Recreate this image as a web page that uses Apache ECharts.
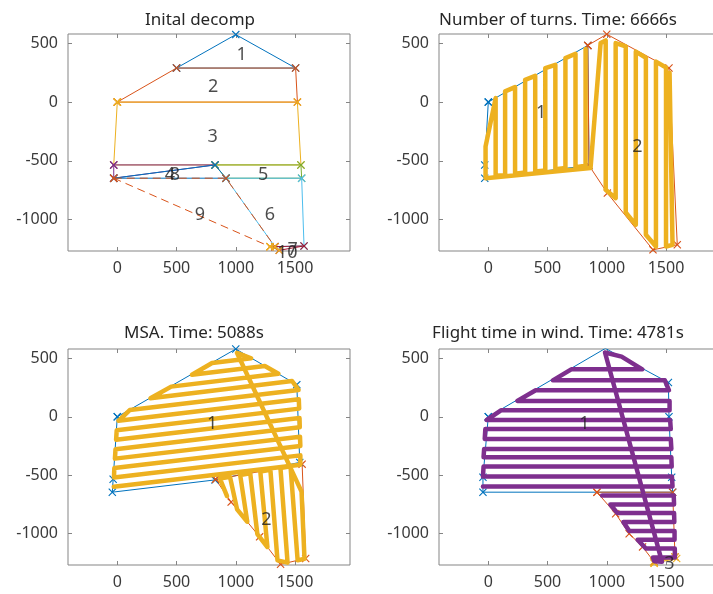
<!DOCTYPE html>
<html>
<head>
<meta charset="utf-8">
<script src="https://cdn.jsdelivr.net/npm/echarts@6/dist/echarts.min.js"></script>
<style>
html,body{margin:0;padding:0;background:#fff}
#chart{width:713px;height:594px}
</style>
</head>
<body>
<div id="chart"></div>
<script>
// ticks shared by the four panels
const xTicks = [0, 500, 1000, 1500];
const yTicks = [-1000, -500, 0, 500];
const xRange = [-416, 1964];
const yRange = [-1268, 580];

const titles = ['Inital decomp', 'Number of turns. Time: 6666s', 'MSA. Time: 5088s', 'Flight time in wind. Time: 4781s'];

// panel 1: initial decomposition, one polygon per cell (cell 9 dashed)
const cell1 = [[500, 290], [1000, 575], [1505, 290]];
const cell2 = [[0, 0], [500, 290], [1505, 290], [1520, 0]];
const cell3 = [[0, 0], [1520, 0], [1550, -535], [-30, -535]];
const cell4 = [[-30, -535], [825, -535], [-30, -648]];
const cell5 = [[825, -535], [1550, -535], [1556, -648], [917, -648]];
const cell6 = [[917, -648], [1556, -648], [1576, -1225], [1330, -1231]];
const cell7 = [[1330, -1231], [1576, -1225], [1367, -1262]];
const cell8 = [[-30, -648], [825, -535], [917, -648]];
const cell9 = [[-30, -648], [917, -648], [1330, -1231], [1289, -1231]];
const cell10 = [[1289, -1231], [1330, -1231], [1367, -1262]];
const cellLabels = [[1050, 403, '1'], [810, 128, '2'], [805, -293, '3'], [445, -620, '4'], [487, -620, '8'],
  [1232, -620, '5'], [1289, -960, '6'], [698, -960, '9'], [1480, -1262, '7'], [1435, -1287, '10']];

// panel 2: number of turns
const turnsPoly1 = [[0, 0], [840, 483], [850, -540], [-30, -648], [-30, -535]];
const turnsPoly2 = [[840, 483], [1000, 578], [1525, 290], [1595, -1215], [1390, -1258], [1005, -775], [850, -540]];
const turnsPath = [[821, 452], [821, -542], [736, -554], [736, 412], [651, 375], [651, -562], [566, -571], [566, 318],
  [481, 290], [481, -582], [396, -591], [396, 224], [311, 190], [311, -599], [226, -611], [226, 128], [142, 91],
  [142, -622], [62, -628], [62, 34], [-23, -378], [-23, -648], [863, -562], [948, 503], [991, 525], [991, -747],
  [1075, -818], [1075, 503], [1160, 474], [1160, -940], [1245, -1045], [1245, 430], [1330, 378], [1330, -1130],
  [1415, -1230], [1415, 345], [1500, 295], [1500, -1230], [1555, -1216], [1530, 250]];
const turnsLabels = [[447, -94, '1'], [1259, -378, '2']];

// panel 3: MSA
const msaPoly1 = [[0, 0], [1000, 580], [1515, 275], [1540, -390], [825, -540], [-42, -645], [-35, -535]];
const msaPoly2 = [[830, -535], [1560, -405], [1590, -1212], [1378, -1262], [1201, -1027], [961, -730]];
const msaPath = [[-30, -599], [1545, -410], [1545, -330], [-28, -519], [-25, -438], [1545, -250], [1542, -170],
  [-20, -358], [-15, -277], [1540, -90], [1538, -10], [-10, -196], [-5, -116], [1535, 70], [1532, 150], [10, -34],
  [105, 58], [1530, 230], [1475, 306], [280, 158], [455, 258], [1360, 368], [1245, 435], [630, 360], [800, 460],
  [1130, 501], [1010, 548], [1555, -640], [1580, -1215], [1522, -1228], [1462, -423], [1377, -438], [1437, -1248],
  [1352, -1228], [1292, -453], [1207, -468], [1267, -1115], [1182, -1003], [1122, -483], [1037, -498], [1097, -898],
  [1011, -792], [951, -513], [866, -529], [926, -678]];
const msaLabels = [[800, -62, '1'], [1258, -886, '2']];

// panel 4: flight time in wind
const windPoly1 = [[0, 0], [988, 585], [1520, 293], [1525, 0], [1548, -517], [1556, -645], [-45, -645], [-45, -517]];
const windPoly2 = [[917, -645], [1556, -645], [1576, -1200], [1400, -1241], [1302, -1113], [1189, -1000], [1075, -829]];
const windPoly3 = [[1400, -1252], [1590, -1213], [1576, -1200], [1395, -1240]];
const windPath = [[960, -673], [1565, -673], [1568, -750], [1030, -750], [1090, -824], [1568, -824], [1570, -900],
  [1140, -900], [1190, -977], [1572, -977], [1572, -1051], [1260, -1051], [1330, -1127], [1574, -1127], [1575, -1204],
  [1390, -1204], [1400, -1235], [1466, -1241], [985, 550], [1125, 515], [1300, 406], [700, 406], [545, 312],
  [1490, 312], [1525, 227], [400, 227], [245, 136], [1530, 136], [1530, 57], [110, 57], [-15, -28], [1535, -28],
  [1540, -105], [-25, -105], [-30, -190], [1540, -190], [1545, -275], [-35, -275], [-40, -346], [1545, -346],
  [1548, -426], [-40, -426], [-45, -511], [1550, -511], [1555, -596], [-45, -596]];
const windLabels = [[812, -62, '1'], [1528, -1255, '3']];

const C = {blue: '#0072BD', orange: '#D95319', yellow: '#EDB120', purple: '#7E2F8E',
  green: '#77AC30', cyan: '#4DBEEE', red: '#A2142F'};
const FONT = '"Noto Sans", sans-serif';
const AXIS = '#858585';
const CROSS = 'path://M1,0L5,4L9,0L10,1L6,5L10,9L9,10L5,6L1,10L0,9L4,5L0,1Z';

const grids = [
  {left: 68, top: 34, width: 282, height: 217},
  {left: 439, top: 34, width: 282, height: 217},
  {left: 68, top: 349, width: 282, height: 216},
  {left: 439, top: 349, width: 282, height: 216}
];
const titlePos = [[200, 20], [558, 20], [194, 333], [558, 333]];

function poly(pts, color, g, dashed) {
  return {
    type: 'line', xAxisIndex: g, yAxisIndex: g,
    data: pts.concat([pts[0]]),
    symbol: CROSS, symbolSize: 8, showSymbol: true,
    itemStyle: {color: color},
    lineStyle: {color: color, width: 1, type: dashed ? [8, 5] : 'solid'},
    silent: true, z: 2
  };
}
function path(pts, color, g) {
  return {
    type: 'line', xAxisIndex: g, yAxisIndex: g, data: pts, showSymbol: false,
    lineStyle: {color: color, width: 4.5, cap: 'round', join: 'round'},
    silent: true, z: 3
  };
}
function labels(list, g) {
  return {
    type: 'scatter', xAxisIndex: g, yAxisIndex: g, symbolSize: 1, clip: false,
    itemStyle: {color: 'transparent'},
    data: list.map(d => ({value: [d[0], d[1]], name: d[2]})),
    label: {show: true, position: 'inside', formatter: '{b}', fontSize: 18, fontFamily: FONT, color: '#1e1e1e'},
    silent: true, z: 4
  };
}

const xAxes = [], yAxes = [];
for (let side = 0; side < 2; side++) {
  grids.forEach((g, i) => {
    xAxes.push({
      type: 'value', gridIndex: i, min: xRange[0], max: xRange[1],
      position: side ? 'top' : 'bottom',
      splitLine: {show: false}, axisLine: {show: false, onZero: false},
      axisTick: {show: true, inside: true, length: 4, customValues: xTicks, lineStyle: {color: AXIS}},
      axisLabel: {show: !side, customValues: xTicks, formatter: v => String(v), margin: 9,
        fontSize: 16, fontFamily: FONT, color: '#3a3a3a'}
    });
    yAxes.push({
      type: 'value', gridIndex: i, min: yRange[0], max: yRange[1],
      position: side ? 'right' : 'left',
      splitLine: {show: false}, axisLine: {show: false, onZero: false},
      axisTick: {show: true, inside: true, length: 4, customValues: yTicks, lineStyle: {color: AXIS}},
      axisLabel: {show: !side, customValues: yTicks, formatter: v => String(v), margin: 10,
        fontSize: 16, fontFamily: FONT, color: '#3a3a3a'}
    });
  });
}

const series = [
  poly(cell1, C.blue, 0), poly(cell2, C.orange, 0), poly(cell3, C.yellow, 0), poly(cell4, C.purple, 0),
  poly(cell5, C.green, 0), poly(cell6, C.cyan, 0), poly(cell7, C.red, 0), poly(cell8, C.blue, 0),
  poly(cell9, C.orange, 0, true), poly(cell10, C.yellow, 0), labels(cellLabels, 0),
  poly(turnsPoly1, C.blue, 1), poly(turnsPoly2, C.orange, 1), path(turnsPath, C.yellow, 1), labels(turnsLabels, 1),
  poly(msaPoly1, C.blue, 2), poly(msaPoly2, C.orange, 2), path(msaPath, C.yellow, 2), labels(msaLabels, 2),
  poly(windPoly1, C.blue, 3), poly(windPoly2, C.orange, 3), poly(windPoly3, C.yellow, 3),
  path(windPath, C.purple, 3), labels(windLabels, 3)
];

const chart = echarts.init(document.getElementById('chart'));
chart.setOption({
  animation: false,
  backgroundColor: '#fff',
  grid: grids.map(g => Object.assign({show: true, borderColor: AXIS, borderWidth: 1,
    backgroundColor: '#fff', outerBoundsMode: 'none', containLabel: false}, g)),
  xAxis: xAxes,
  yAxis: yAxes,
  graphic: titles.map((t, i) => ({
    type: 'text', x: titlePos[i][0], y: titlePos[i][1], silent: true,
    style: {text: t, align: 'center', verticalAlign: 'middle', fontSize: 17, fontFamily: FONT, fill: '#262626'}
  })),
  series: series
});
</script>
</body>
</html>
